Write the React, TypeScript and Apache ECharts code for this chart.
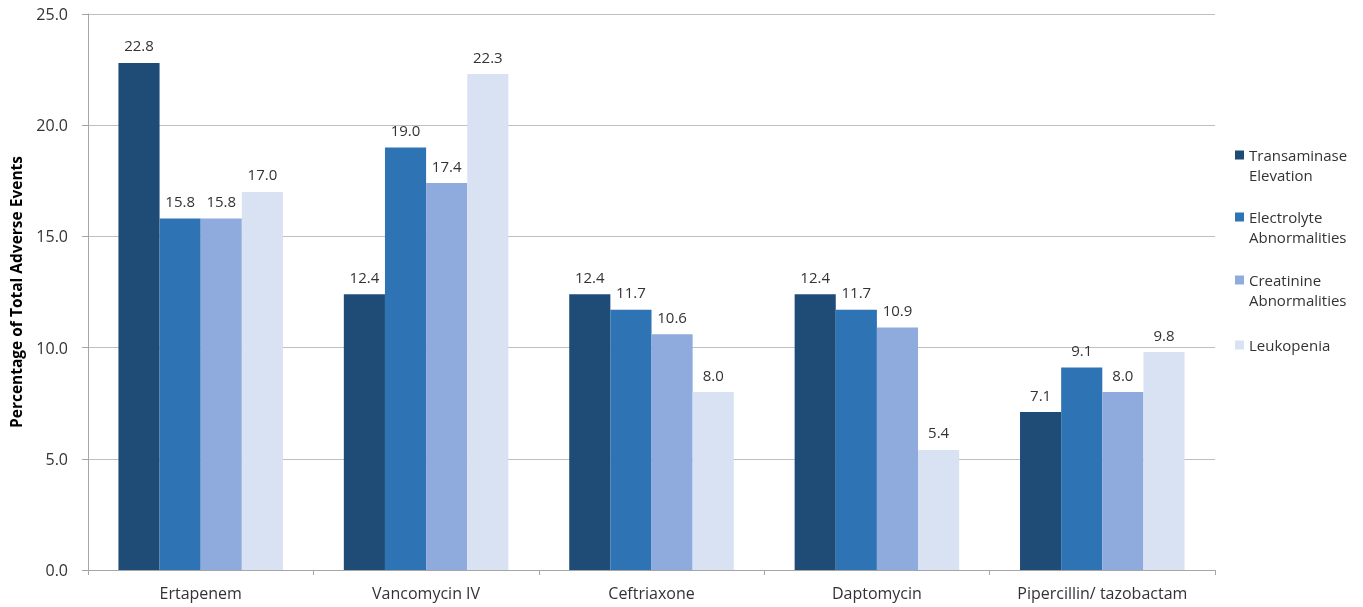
import React, { useEffect, useRef } from "react";
import * as echarts from "echarts";

const categories = ["Ertapenem", "Vancomycin IV", "Ceftriaxone", "Daptomycin", "Pipercillin/ tazobactam"];
const seriesNames = ["Transaminase Elevation", "Electrolyte Abnormalities", "Creatinine Abnormalities", "Leukopenia"];
const legendLabels = ["Transaminase\nElevation", "Electrolyte\nAbnormalities", "Creatinine\nAbnormalities", "Leukopenia"];
const transaminase = [22.8, 12.4, 12.4, 12.4, 7.1];
const electrolyte = [15.8, 19.0, 11.7, 11.7, 9.1];
const creatinine = [15.8, 17.4, 10.6, 10.9, 8.0];
const leukopenia = [17.0, 22.3, 8.0, 5.4, 9.8];
const yTicks = [0, 5, 10, 15, 20, 25];

const seriesValues = [transaminase, electrolyte, creatinine, leukopenia];
const colors = ["#1F4B77", "#2E74B5", "#8FAADC", "#D9E2F3"];
const FONT = "Open Sans";

export default function App() {
  const ref = useRef<HTMLDivElement>(null);
  useEffect(() => {
    if (!ref.current) return;
    const chart = echarts.init(ref.current, null, { renderer: "svg" });
    const twoLineIcon = "path://M0,0h10v10h-10z M0,32.1h0.1v0.1h-0.1z";
    const legendTops = [145, 207, 270, 335];
    const legends = seriesNames.map((name, i) => ({
      show: true,
      orient: "vertical",
      left: 1235,
      top: legendTops[i],
      padding: 0,
      itemWidth: 9,
      itemHeight: i < 3 ? 29 : 9,
      icon: i < 3 ? twoLineIcon : "rect",
      itemGap: 0,
      data: [name],
      formatter: () => legendLabels[i],
      selectedMode: false,
      textStyle: { fontFamily: FONT, fontSize: 15, color: "#333", lineHeight: 20, padding: [0, 0, 0, 0] },
    }));
    chart.setOption({
      animation: false,
      color: colors,
      textStyle: { fontFamily: FONT },
      grid: { left: 88, right: 148, top: 14, bottom: 37 },
      legend: legends,
      xAxis: {
        type: "category",
        data: categories,
        axisLine: { show: true, lineStyle: { color: "#A6A6A6", width: 1 } },
        axisTick: { show: true, length: 5, lineStyle: { color: "#A6A6A6" } },
        axisLabel: { fontFamily: FONT, fontSize: 16, color: "#333", margin: 15 },
      },
      yAxis: {
        type: "value",
        min: yTicks[0],
        max: yTicks[yTicks.length - 1],
        interval: 5,
        name: "Percentage of Total Adverse Events",
        nameLocation: "middle",
        nameGap: 64,
        nameTextStyle: { fontFamily: FONT, fontSize: 15.5, fontWeight: "bold", color: "#000" },
        axisLine: { show: true, lineStyle: { color: "#A6A6A6", width: 1 } },
        axisTick: { show: true, length: 6, lineStyle: { color: "#A6A6A6" } },
        axisLabel: { fontFamily: FONT, fontSize: 16, color: "#333", margin: 20, formatter: (v: number) => v.toFixed(1) },
        splitLine: { show: true, lineStyle: { color: "#BFBFBF", width: 1 } },
      },
      series: seriesNames.map((name, i) => ({
        name,
        type: "bar",
        data: seriesValues[i],
        barGap: "0%",
        barCategoryGap: "27%",
        itemStyle: { color: colors[i] },
        label: {
          show: true,
          position: "top",
          distance: 10,
          fontFamily: FONT,
          fontSize: 15,
          color: "#333",
          formatter: (p: any) => Number(p.value).toFixed(1),
        },
      })),
    });
    return () => chart.dispose();
  }, []);
  return <div ref={ref} style={{ position: "fixed", left: 0, top: 0, width: 1363, height: 607 }} />;
}
